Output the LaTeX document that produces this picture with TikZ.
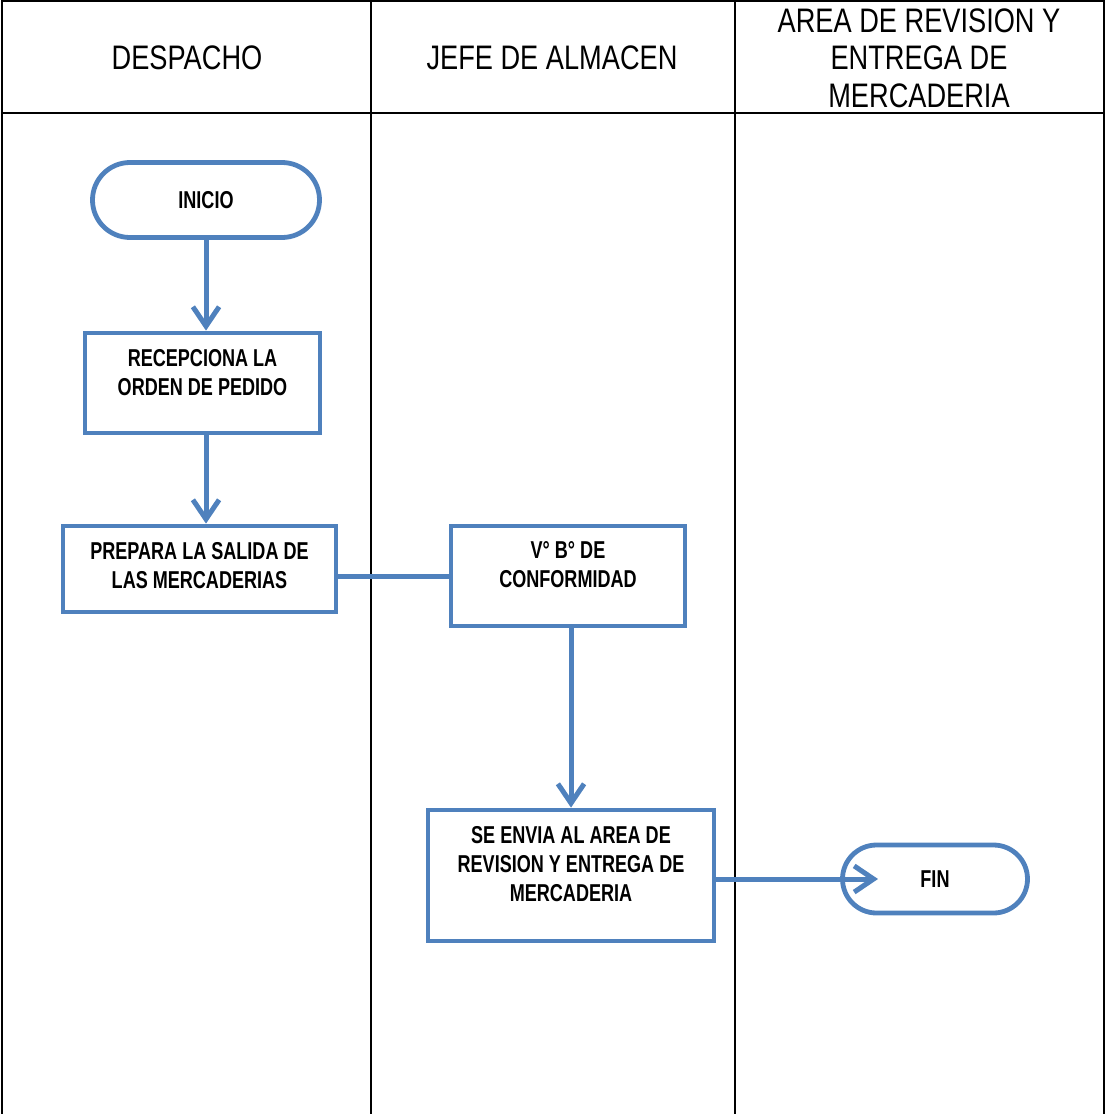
\documentclass[tikz,border=0pt]{standalone}
\usepackage{fontspec}
\setmainfont{Liberation Sans}[FakeStretch=0.8]
\newfontfamily\boxfont{Liberation Sans}[FakeStretch=0.74]
\usetikzlibrary{arrows.meta,positioning}
\definecolor{flowblue}{RGB}{79,129,189}
\tikzset{
  lane/.style={black, line width=0.8pt},
  hdr/.style={font=\fontsize{17}{18.75}\selectfont, align=center},
  term/.style={draw=flowblue, line width=2.4pt, fill=white, font=\boxfont\fontsize{12.2}{14.5}\selectfont\bfseries},
  proc/.style={draw=flowblue, line width=2.4pt, fill=white},
  ptxt/.style={font=\boxfont\fontsize{12.2}{14.5}\selectfont\bfseries, align=center, inner sep=0pt},
  arr/.style={flowblue, line width=2.5pt, -{Straight Barb[length=3.4mm, width=4.6mm]}},
  lnk/.style={flowblue, line width=2.5pt},
}
\begin{document}
\begin{tikzpicture}[x=0.5pt, y=-0.5pt]
  \useasboundingbox (0,0) rectangle (1106,1114);
  % swimlanes
  \draw[lane] (2,1114) -- (2,1) -- (1104,1) -- (1104,1114);
  \draw[lane] (2,113) -- (1104,113);
  \draw[lane] (371,1) -- (371,1114);
  \draw[lane] (735,1) -- (735,1114);
  \node[hdr] (hdesp) at (187,58) {DESPACHO};
  \node[hdr] (hjefe) at (552,58) {JEFE DE ALMACEN};
  \node[hdr] (harea) at (919,58) {AREA DE REVISION Y\\ENTREGA DE\\MERCADERIA};

  % flow
  \node[term, minimum width=113.5pt, minimum height=37.5pt, rounded corners=18.7pt] (inicio) at (206,200) {INICIO};
  \node[proc, minimum width=117.5pt, minimum height=50pt] (recep) at (202.5,383) {};
  \node[ptxt] (receptxt) at ([yshift=5pt]recep.center) {RECEPCIONA LA\\ORDEN DE PEDIDO};
  \node[proc, minimum width=136.5pt, minimum height=43pt] (prep) at (199.5,569) {};
  \node[ptxt] (preptxt) at ([yshift=1.7pt]prep.center) {PREPARA LA SALIDA DE\\LAS MERCADERIAS};
  \node[proc, minimum width=117pt, minimum height=50pt] (vobo) at (568,576) {};
  \node[ptxt] (vobotxt) at ([yshift=5.5pt]vobo.center) {V° B° DE\\CONFORMIDAD};
  \node[proc, minimum width=143pt, minimum height=65.5pt] (envia) at (571,875.5) {};
  \node[ptxt] (enviatxt) at ([yshift=5.7pt]envia.center) {SE ENVIA AL AREA DE\\REVISION Y ENTREGA DE\\MERCADERIA};
  \node[term, minimum width=92.5pt, minimum height=34pt, rounded corners=17pt] (fin) at (935,879) {FIN};
  \coordinate (finin) at (878,879);

  \draw[arr] (inicio.south) -- (inicio.south |- recep.north);
  \draw[arr] (inicio.south |- recep.south) -- (inicio.south |- prep.north);
  \draw[lnk] (prep.east |- vobo) -- (vobo.west);
  \draw[arr] (vobo.south -| envia.north) -- (envia.north);
  \draw[arr] (envia.east |- fin) -- (finin);
\end{tikzpicture}
\end{document}
